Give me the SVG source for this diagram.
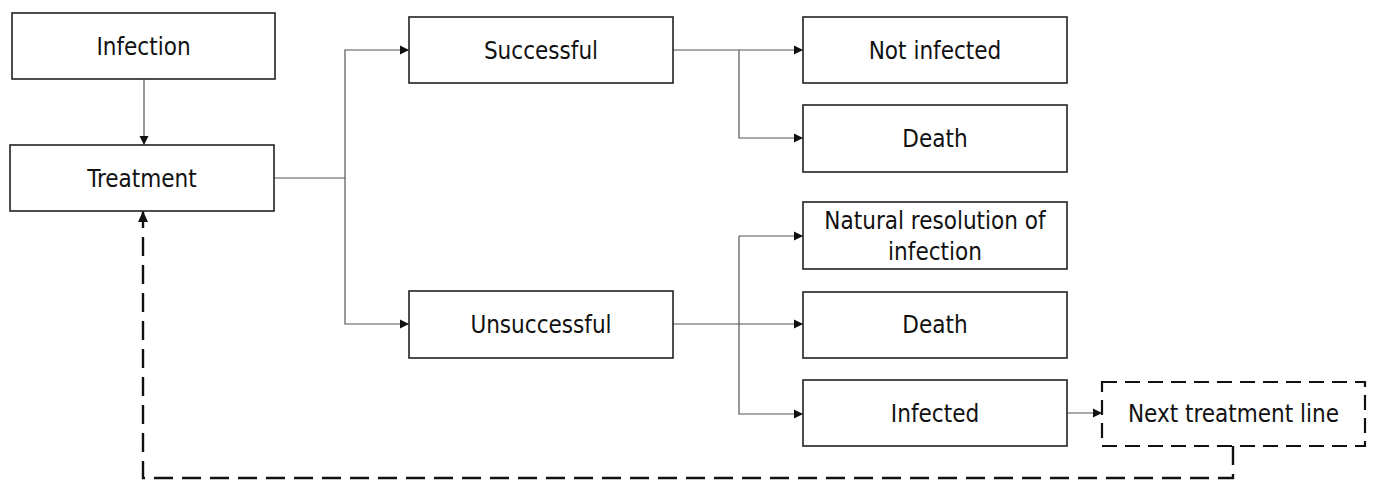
<svg xmlns="http://www.w3.org/2000/svg" width="1375" height="481" viewBox="0 0 1375 481">
<style>
.box{fill:#fff;stroke:#222;stroke-width:1.6}
.dbox{fill:#fff;stroke:#111;stroke-width:2.2;stroke-dasharray:15 8}
.lbl{font-family:"DejaVu Sans Condensed","DejaVu Sans","Verdana",sans-serif;font-stretch:condensed;font-size:24px;fill:#111;text-anchor:middle}
.c{fill:none;stroke:#555;stroke-width:1.2}
.cd{fill:none;stroke:#111;stroke-width:2.4;stroke-dasharray:19 9}
</style>
<defs>
<marker id="ah" markerWidth="10" markerHeight="10" refX="9" refY="5" orient="auto" markerUnits="userSpaceOnUse">
<path d="M0,0.5 L9,5 L0,9.5 Z" fill="#111"/>
</marker>
<marker id="ahd" markerWidth="12" markerHeight="12" refX="11" refY="6" orient="auto" markerUnits="userSpaceOnUse">
<path d="M0,1 L11,6 L0,11 Z" fill="#111"/>
</marker>
</defs>
<g id="connectors">
<path class="c" d="M144,79 V145" marker-end="url(#ah)"/>
<path class="c" d="M274,178 H345"/>
<path class="c" d="M345,178 V50 H409" marker-end="url(#ah)"/>
<path class="c" d="M345,178 V324 H409" marker-end="url(#ah)"/>
<path class="c" d="M673,50 H803" marker-end="url(#ah)"/>
<path class="c" d="M739,50 V138 H803" marker-end="url(#ah)"/>
<path class="c" d="M673,324 H803" marker-end="url(#ah)"/>
<path class="c" d="M739,236 H803" marker-end="url(#ah)"/>
<path class="c" d="M739,236 V414 H803" marker-end="url(#ah)"/>
<path class="c" d="M1067,413 H1102" marker-end="url(#ah)"/>
<path class="cd" d="M1233,446 V478 H143 V211" marker-end="url(#ahd)"/>
</g>
<g id="infection"><rect class="box" x="12" y="13" width="263" height="66"/><text class="lbl" x="143.5" y="55">Infection</text></g>
<g id="treatment"><rect class="box" x="10" y="145" width="264" height="66"/><text class="lbl" x="142" y="187">Treatment</text></g>
<g id="successful"><rect class="box" x="409" y="17" width="264" height="66"/><text class="lbl" x="541" y="59">Successful</text></g>
<g id="unsuccessful"><rect class="box" x="409" y="291" width="264" height="67"/><text class="lbl" x="541" y="333">Unsuccessful</text></g>
<g id="not-infected"><rect class="box" x="803" y="17" width="264" height="66"/><text class="lbl" x="935" y="59">Not infected</text></g>
<g id="death1"><rect class="box" x="803" y="105" width="264" height="67"/><text class="lbl" x="935" y="147">Death</text></g>
<g id="natural-resolution"><rect class="box" x="803" y="202" width="264" height="67"/><text class="lbl" x="935" y="229">Natural resolution of</text><text class="lbl" x="935" y="260">infection</text></g>
<g id="death2"><rect class="box" x="803" y="292" width="264" height="66"/><text class="lbl" x="935" y="333">Death</text></g>
<g id="infected"><rect class="box" x="803" y="380" width="264" height="66"/><text class="lbl" x="935" y="422">Infected</text></g>
<g id="next-treatment-line"><rect class="dbox" x="1102" y="382" width="263" height="64"/><text class="lbl" x="1233.5" y="422">Next treatment line</text></g>
</svg>
